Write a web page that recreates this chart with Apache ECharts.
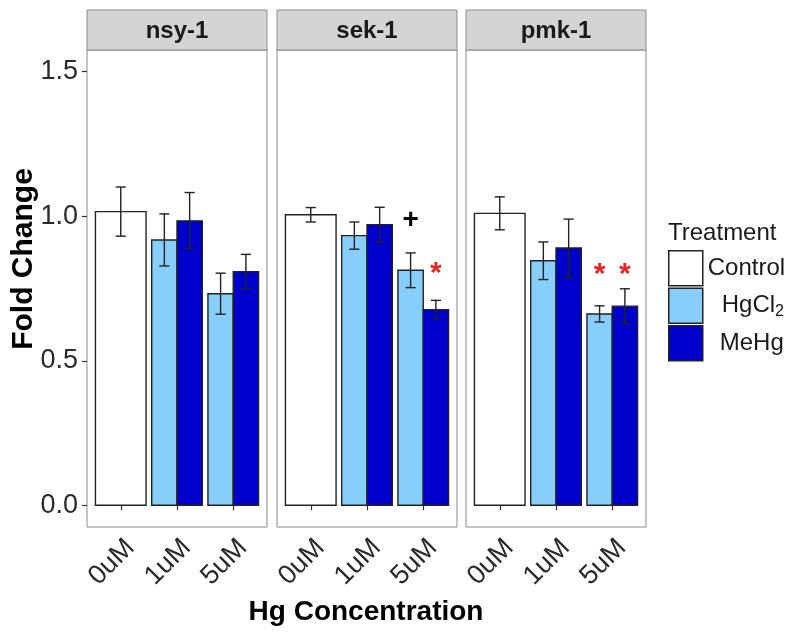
<!DOCTYPE html>
<html>
<head>
<meta charset="utf-8">
<script src="https://cdn.jsdelivr.net/npm/echarts@6/dist/echarts.min.js"></script>
<style>html,body{margin:0;padding:0;background:#fff}#c{width:800px;height:638px}</style>
</head>
<body>
<div id="c"></div>
<script>
// ---- data ----
const panels = ['nsy-1', 'sek-1', 'pmk-1'];
const doses = ['0uM', '1uM', '5uM'];
const treatments = ['Control', 'HgCl2', 'MeHg'];
const controlMean = [1.016, 1.005, 1.010];
const controlSE = [0.085, 0.025, 0.057];
const hgcl2Mean = [[0.918, 0.732], [0.933, 0.813], [0.846, 0.662]];
const hgcl2SE = [[0.090, 0.071], [0.047, 0.060], [0.065, 0.028]];
const mehgMean = [[0.984, 0.808], [0.971, 0.677], [0.890, 0.689]];
const mehgSE = [[0.098, 0.060], [0.060, 0.032], [0.100, 0.060]];
const yTicks = [0, 0.5, 1.0, 1.5];
const marks = [
  { panel: 1, dose: 2, treatment: 'HgCl2', y: 0.985, label: '+' },
  { panel: 1, dose: 2, treatment: 'MeHg', y: 0.826, label: '*' },
  { panel: 2, dose: 2, treatment: 'HgCl2', y: 0.823, label: '*' },
  { panel: 2, dose: 2, treatment: 'MeHg', y: 0.823, label: '*' }
];

// ---- style / layout ----
const FONT = 'Liberation Sans, Arial, sans-serif';
const colors = { Control: '#ffffff', HgCl2: '#87cefa', MeHg: '#0000cd' };
const dodge = { Control: { off: 0, w: 0.9 }, HgCl2: { off: -0.225, w: 0.45 }, MeHg: { off: 0.225, w: 0.45 } };
const gridLefts = [87, 277, 466];
const gridW = 180, gridTop = 50, gridH = 477;

function barRender(t) {
  return function (params, api) {
    const x = api.value(0), m = api.value(1), se = api.value(2);
    const d = dodge[t];
    const cx = x + d.off;
    const a = api.coord([cx - d.w / 2, 0]);
    const b = api.coord([cx + d.w / 2, m]);
    const top = api.coord([cx, m + se]);
    const bot = api.coord([cx, m - se]);
    const cl = api.coord([cx - 0.09, 0])[0];
    const cr = api.coord([cx + 0.09, 0])[0];
    const ls = { stroke: '#222', lineWidth: 1.4 };
    return {
      type: 'group',
      children: [
        { type: 'rect', shape: { x: a[0], y: b[1], width: b[0] - a[0], height: a[1] - b[1] },
          style: { fill: colors[t], stroke: '#222', lineWidth: 1.4 } },
        { type: 'line', shape: { x1: top[0], y1: top[1], x2: bot[0], y2: bot[1] }, style: ls },
        { type: 'line', shape: { x1: cl, y1: top[1], x2: cr, y2: top[1] }, style: ls },
        { type: 'line', shape: { x1: cl, y1: bot[1], x2: cr, y2: bot[1] }, style: ls }
      ]
    };
  };
}

const grids = [], xAxes = [], yAxes = [], series = [], graphics = [];
panels.forEach((p, i) => {
  grids.push({ left: gridLefts[i], top: gridTop, width: gridW, height: gridH,
    show: true, borderColor: '#8a8a8a', borderWidth: 1, backgroundColor: '#fff' });
  xAxes.push({
    gridIndex: i, type: 'value', min: 0.4, max: 3.6,
    axisLine: { show: false }, splitLine: { show: false },
    axisTick: { show: true, customValues: [1, 2, 3], length: 5, lineStyle: { color: '#333', width: 1.2 } },
    axisLabel: { customValues: [1, 2, 3], rotate: 45, margin: 7, fontSize: 27, color: '#2a2a2a', fontFamily: FONT,
      align: 'right', verticalAlign: 'top',
      formatter: v => doses[Math.round(v) - 1] }
  });
  yAxes.push({
    gridIndex: i, type: 'value', min: -0.075, max: 1.575,
    axisLine: { show: false }, splitLine: { show: false },
    axisTick: { show: i === 0, customValues: yTicks, length: 5, lineStyle: { color: '#333', width: 1.2 } },
    axisLabel: { show: i === 0, customValues: yTicks, margin: 9, fontSize: 27, color: '#2a2a2a', fontFamily: FONT,
      formatter: v => v.toFixed(1) }
  });
  series.push({ type: 'custom', name: 'Control', xAxisIndex: i, yAxisIndex: i,
    itemStyle: { color: colors.Control, borderColor: '#222' },
    renderItem: barRender('Control'), data: [[1, controlMean[i], controlSE[i]]] });
  series.push({ type: 'custom', name: 'HgCl2', xAxisIndex: i, yAxisIndex: i,
    itemStyle: { color: colors.HgCl2, borderColor: '#222' },
    renderItem: barRender('HgCl2'), data: [[2, hgcl2Mean[i][0], hgcl2SE[i][0]], [3, hgcl2Mean[i][1], hgcl2SE[i][1]]] });
  series.push({ type: 'custom', name: 'MeHg', xAxisIndex: i, yAxisIndex: i,
    itemStyle: { color: colors.MeHg, borderColor: '#222' },
    renderItem: barRender('MeHg'), data: [[2, mehgMean[i][0], mehgSE[i][0]], [3, mehgMean[i][1], mehgSE[i][1]]] });
  // strip
  graphics.push({ type: 'rect', shape: { x: gridLefts[i], y: 10, width: gridW, height: 40 },
    style: { fill: '#d4d4d4', stroke: '#8a8a8a', lineWidth: 1 } });
  graphics.push({ type: 'text', x: gridLefts[i] + gridW / 2, y: 31,
    style: { text: p, fontSize: 24, fontWeight: 'bold', fontFamily: FONT, fill: '#1a1a1a', textAlign: 'center', textVerticalAlign: 'middle' } });
});

// significance marks
panels.forEach((p, i) => {
  const pm = marks.filter(m => m.panel === i);
  if (!pm.length) return;
  series.push({
    type: 'custom', name: 'marks', xAxisIndex: i, yAxisIndex: i, silent: true,
    data: pm.map(m => [m.dose + 1, m.y, treatments.indexOf(m.treatment), m.label === '+' ? 0 : 1]),
    renderItem: function (params, api) {
      const t = treatments[api.value(2)];
      const isStar = api.value(3) === 1;
      const c = api.coord([api.value(0) + dodge[t].off, api.value(1)]);
      return { type: 'text', x: c[0], y: c[1] + (isStar ? 7 : 0),
        style: { text: isStar ? '*' : '+', fontSize: isStar ? 30 : 28, fontWeight: 'bold', fontFamily: FONT,
          fill: isStar ? '#ee2020' : '#000', textAlign: 'center', textVerticalAlign: 'middle' } };
    }
  });
});

graphics.push({ type: 'text', x: 24, y: 259, rotation: Math.PI / 2,
  style: { text: 'Fold Change', fontSize: 30, fontWeight: 'bold', fontFamily: FONT, fill: '#000', textAlign: 'center', textVerticalAlign: 'middle' } });
graphics.push({ type: 'text', x: 366, y: 612,
  style: { text: 'Hg Concentration', fontSize: 28, fontWeight: 'bold', fontFamily: FONT, fill: '#000', textAlign: 'center', textVerticalAlign: 'middle' } });
graphics.push({ type: 'text', x: 668, y: 233,
  style: { text: 'Treatment', fontSize: 24, fontFamily: FONT, fill: '#1a1a1a', textAlign: 'left', textVerticalAlign: 'middle' } });

const chart = echarts.init(document.getElementById('c'), null, { renderer: 'canvas' });
chart.setOption({
  animation: false,
  backgroundColor: '#fff',
  grid: grids, xAxis: xAxes, yAxis: yAxes, series: series,
  legend: {
    orient: 'vertical', left: 668, top: 250, padding: 0, icon: 'rect', itemWidth: 34, itemHeight: 35, itemGap: 1,
    selectedMode: false,
    data: [
      { name: 'Control', itemStyle: { color: colors.Control, borderColor: '#222', borderWidth: 1.5 } },
      { name: 'HgCl2', itemStyle: { color: colors.HgCl2, borderColor: '#222', borderWidth: 1.5 }, textStyle: { padding: [0, 0, 0, 14] } },
      { name: 'MeHg', itemStyle: { color: colors.MeHg, borderColor: '#222', borderWidth: 1.5 }, textStyle: { padding: [0, 0, 0, 12] } }
    ],
    formatter: name => name === 'HgCl2' ? '{n|HgCl}{s|2}' : '{n|' + name + '}',
    textStyle: {
      fontFamily: FONT, fontSize: 24, color: '#1a1a1a',
      rich: {
        n: { fontSize: 24, fontFamily: FONT, color: '#1a1a1a', lineHeight: 28 },
        s: { fontSize: 16, fontFamily: FONT, color: '#1a1a1a', lineHeight: 16, verticalAlign: 'bottom' }
      }
    }
  },
  graphic: graphics
});
</script>
</body>
</html>
